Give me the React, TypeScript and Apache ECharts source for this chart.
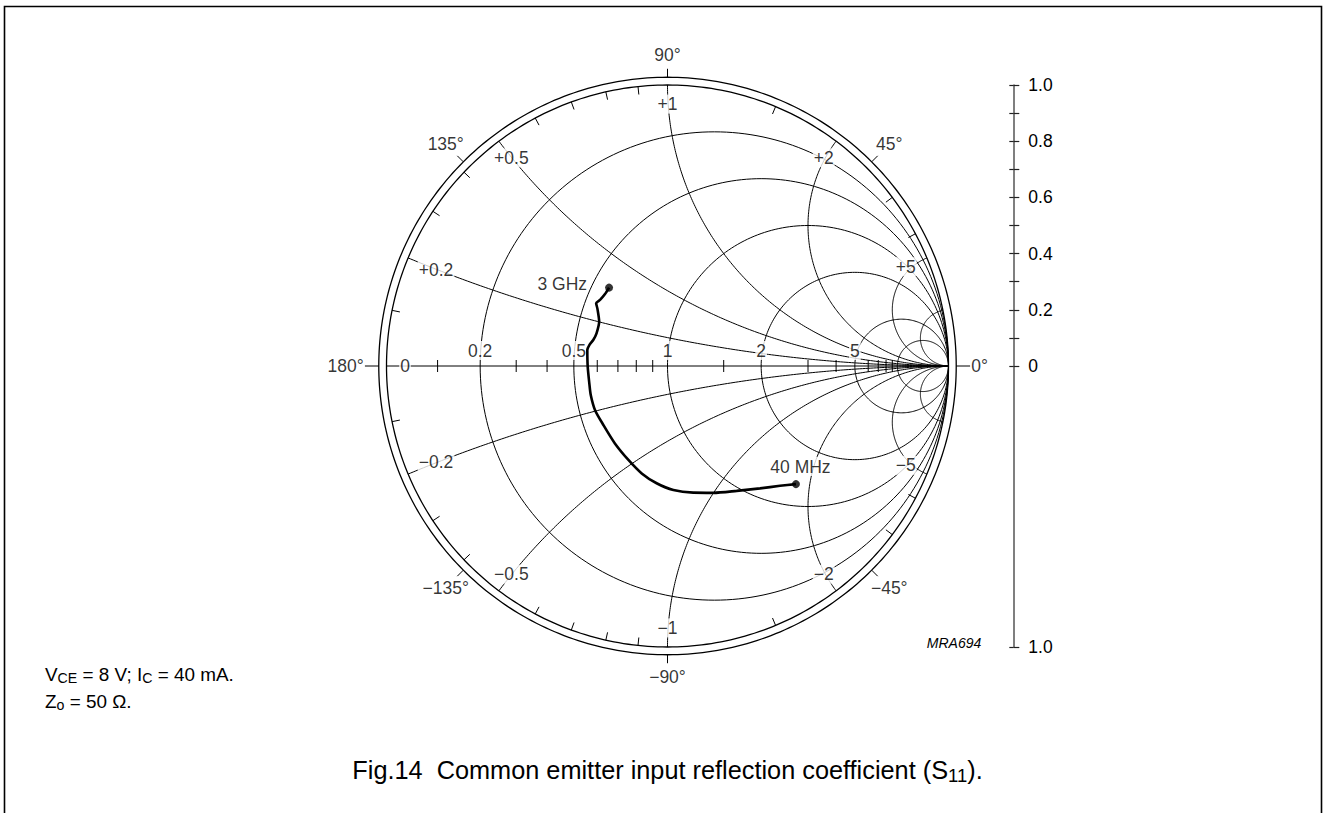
import React, { useEffect, useRef } from 'react';
import * as echarts from 'echarts';

// ---- S11 data (3 GHz -> 40 MHz): magnitude and angle (deg)
const s11Mag = [0.348, 0.339, 0.336, 0.338, 0.323, 0.29, 0.278, 0.28, 0.288, 0.291, 0.284, 0.285, 0.292, 0.302, 0.31, 0.333, 0.362, 0.393, 0.419, 0.442, 0.46, 0.48, 0.508, 0.546, 0.585, 0.621];
const s11Ang = [126.7, 131.0, 135.6, 138.7, 140.6, 147.0, 155.3, 160.7, 165.0, 168.7, -179.5, -167.5, -159.3, -148.6, -137.4, -124.2, -112.6, -103.5, -95.3, -87.3, -78.5, -70.1, -61.0, -52.9, -46.8, -42.6];
const freqLabels = ['3 GHz', '40 MHz'];

// ---- Smith chart grid values
const resistanceCircles = [0.2, 0.5, 1, 2, 5, 10];
const resistanceLabels = ['0.2', '0.5', '1', '2', '5'];
const reactanceArcs = [0.2, 0.5, 1, 2, 5, 10];
const reactanceLabels = ['0.2', '0.5', '1', '2', '5'];
const axisMinorTicks = [0.1, 0.3, 0.4, 0.6, 0.7, 0.8, 0.9, 1.5, 3, 4, 6, 7, 8, 9];
const rimMinorTicks = [0.1, 0.3, 0.4, 0.6, 0.7, 0.8, 0.9, 1.5, 3, 4];
const angleMarks = [0, 45, 90, 135, 180, -45, -90, -135];

// ---- magnitude scale on the right
const magTickValues = [1.0, 0.9, 0.8, 0.7, 0.6, 0.5, 0.4, 0.3, 0.2, 0.1, 0, -1.0];
const magLabelValues = [1.0, 0.8, 0.6, 0.4, 0.2, 0, -1.0];

const FONT = '"Liberation Sans", Arial, Helvetica, sans-serif';
const CX = 667.5;
const CY = 366;
const R = 281;
const SPAN = 1.3;
const R_OUT = 1.0275;
const FS = 17.5;

const CW: Record<string, number> = { '.': 0.278, '+': 0.584, '\u2212': 0.584, '\u00b0': 0.4 };
function halfW(s: string, fs: number) {
  let w = 0;
  for (const ch of s) w += CW[ch] !== undefined ? CW[ch] : 0.556;
  return (w * fs) / 2;
}
function radialPos(text: string, thetaDeg: number, basePx: number, gapPx: number, outward: boolean): [number, number] {
  const th = (thetaDeg * Math.PI) / 180;
  const c = Math.abs(Math.cos(th));
  const s = Math.abs(Math.sin(th));
  const w = halfW(text, FS);
  const h = 0.4 * FS;
  const t = Math.min(c > 1e-6 ? w / c : Infinity, s > 1e-6 ? h / s : Infinity);
  const d = outward ? basePx + gapPx + t : basePx - gapPx - t;
  return [(d / R) * Math.cos(th), (d / R) * Math.sin(th)];
}

function arcPts(cx: number, cy: number, r: number, a0: number, a1: number, n: number) {
  const pts: number[][] = [];
  for (let i = 0; i <= n; i++) {
    const a = a0 + ((a1 - a0) * i) / n;
    pts.push([cx + r * Math.cos(a), cy + r * Math.sin(a)]);
  }
  return pts;
}

function buildGrid() {
  const items: any[] = [];
  const thin = { width: 1, color: '#000' };
  const thick = { width: 1.3, color: '#000' };
  items.push({ coords: arcPts(0, 0, 1, 0, 2 * Math.PI, 360), lineStyle: thick });
  items.push({ coords: arcPts(0, 0, R_OUT, 0, 2 * Math.PI, 360), lineStyle: thick });
  items.push({ coords: [[-1, 0], [1, 0]], lineStyle: thin });
  resistanceCircles.forEach((r) => {
    items.push({ coords: arcPts(r / (1 + r), 0, 1 / (1 + r), 0, 2 * Math.PI, 240), lineStyle: thin });
  });
  reactanceArcs.forEach((x) => {
    const q = x * x + 1;
    let end = Math.atan2((x * x - 1) / q, (-2 * x) / q);
    const start = -Math.PI / 2;
    if (end > start) end -= 2 * Math.PI;
    const up = arcPts(1, 1 / x, 1 / x, start, end, 200);
    items.push({ coords: up, lineStyle: thin });
    items.push({ coords: up.map((p) => [p[0], -p[1]]), lineStyle: thin });
  });
  axisMinorTicks.forEach((r) => {
    const g = (r - 1) / (r + 1);
    items.push({ coords: [[g, -6 / R], [g, 6 / R]], lineStyle: thin });
  });
  rimMinorTicks.forEach((x) => {
    const th = 2 * Math.atan(1 / x);
    [1, -1].forEach((sg) => {
      const c = Math.cos(th);
      const s = Math.sin(th) * sg;
      items.push({ coords: [[c, s], [c * (1 - 8 / R), s * (1 - 8 / R)]], lineStyle: thin });
    });
  });
  angleMarks.forEach((a) => {
    const th = (a * Math.PI) / 180;
    const L = a === 0 || a === 180 ? 14 : 8.5;
    const c = Math.cos(th);
    const s = Math.sin(th);
    items.push({ coords: [[c * R_OUT, s * R_OUT], [c * (R_OUT + L / R), s * (R_OUT + L / R)]], lineStyle: thin });
  });
  return items;
}

function buildLabels() {
  const data: any[] = [];
  resistanceLabels.forEach((t, i) => {
    const r = resistanceCircles[i];
    data.push({ value: [(r - 1) / (r + 1), 0], name: t, label: { offset: [0, -15.5] } });
  });
  data.push({ value: [-1, 0], name: '0', label: { offset: [18.5, 0] } });
  reactanceLabels.forEach((t, i) => {
    const x = reactanceArcs[i];
    const th = (2 * Math.atan(1 / x) * 180) / Math.PI;
    const tp = '+' + t;
    const tn = '\u2212' + t;
    data.push({ value: radialPos(tp, th, R, 12, false), name: tp });
    data.push({ value: radialPos(tn, -th, R, 12, false), name: tn });
  });
  angleMarks.forEach((a) => {
    const txt = (a < 0 ? '\u2212' + Math.abs(a) : String(a)) + '\u00b0';
    data.push({ value: radialPos(txt, a, R_OUT * R, 15, true), name: txt });
  });
  return data;
}

export default function App() {
  const ref = useRef<HTMLDivElement>(null);
  useEffect(() => {
    if (!ref.current) return;
    const chart = echarts.init(ref.current, null, { renderer: 'svg' });
    const pts = s11Mag.map((m, i) => {
      const a = (s11Ang[i] * Math.PI) / 180;
      return [m * Math.cos(a), m * Math.sin(a)];
    });
    const last = pts.length - 1;
    const option: any = {
      animation: false,
      backgroundColor: '#fff',
      grid: [
        { left: CX - SPAN * R, top: CY - SPAN * R, width: 2 * SPAN * R, height: 2 * SPAN * R },
        { left: 1013.3, top: CY - R, width: 40, height: 2 * R },
      ],
      xAxis: [
        { gridIndex: 0, type: 'value', min: -SPAN, max: SPAN, show: false },
        { gridIndex: 1, type: 'value', min: 0, max: 1, show: false },
      ],
      yAxis: [
        { gridIndex: 0, type: 'value', min: -SPAN, max: SPAN, show: false },
        {
          gridIndex: 1, type: 'value', min: -1, max: 1, position: 'left',
          axisLine: { show: true, lineStyle: { color: '#555', width: 1.5 } },
          axisTick: { show: true, inside: false, length: 4, customValues: magTickValues, lineStyle: { color: '#222', width: 1.2 } },
          axisLabel: { show: false }, splitLine: { show: false },
        },
        {
          gridIndex: 1, type: 'value', min: -1, max: 1, position: 'left',
          axisLine: { show: false },
          axisTick: { show: true, inside: true, length: 6, customValues: magTickValues, lineStyle: { color: '#222', width: 1.2 } },
          axisLabel: {
            show: true, inside: true, margin: 15, customValues: magLabelValues,
            color: '#000', fontSize: FS, fontFamily: FONT,
            formatter: (v: number) => (Math.abs(v) < 1e-9 ? '0' : Math.abs(v).toFixed(1)),
          },
          splitLine: { show: false },
        },
      ],
      series: [
        {
          type: 'lines', coordinateSystem: 'cartesian2d', xAxisIndex: 0, yAxisIndex: 0,
          polyline: true, silent: true, z: 1, data: buildGrid(),
          lineStyle: { color: '#000', width: 1, opacity: 1 },
        },
        {
          type: 'scatter', xAxisIndex: 0, yAxisIndex: 0, z: 2, silent: true,
          symbolSize: 0.1, itemStyle: { color: 'rgba(0,0,0,0)' },
          label: {
            show: true, position: 'inside', formatter: '{b}', color: '#000', fontSize: FS, fontFamily: FONT,
            backgroundColor: '#fff', padding: [0, 1], lineHeight: 19, align: 'center', verticalAlign: 'middle',
          },
          data: buildLabels(),
        },
        {
          type: 'line', xAxisIndex: 0, yAxisIndex: 0, z: 4, data: pts, symbol: 'none', smooth: 0.25,
          lineStyle: { color: '#000', width: 2.6 }, silent: true,
        },
        {
          type: 'scatter', xAxisIndex: 0, yAxisIndex: 0, z: 5, symbolSize: 8, silent: true,
          itemStyle: { color: '#000' },
          label: {
            show: true, formatter: '{b}', color: '#000', fontSize: FS, fontFamily: FONT,
            backgroundColor: '#fff', padding: [0, 1], lineHeight: 19,
          },
          data: [
            { value: pts[0], name: freqLabels[0], label: { position: 'left', distance: 17, offset: [0, -4] } },
            { value: pts[last], name: freqLabels[1], label: { position: 'top', distance: 4, offset: [4.5, 0] } },
          ],
        },
      ],
      graphic: [
        {
          type: 'rect', silent: true, z: 0,
          shape: { x: 4.5, y: 6.5, width: 1317, height: 900 },
          style: { fill: 'none', stroke: '#000', lineWidth: 1.6 },
        },
        {
          type: 'text', silent: true, x: 667.5, y: 770,
          style: {
            text: 'Fig.14  Common emitter input reflection coefficient (S{s|11}).',
            fontSize: 25.3, fontFamily: FONT, fill: '#000', lineHeight: 30,
            align: 'center', verticalAlign: 'middle',
            rich: { s: { fontSize: 18.5, fontFamily: FONT, lineHeight: 14, verticalAlign: 'bottom', fill: '#000' } },
          },
        },
        {
          type: 'text', silent: true, x: 45, y: 674,
          style: {
            text: 'V{s|CE} = 8 V; I{s|C} = 40 mA.',
            fontSize: 18.9, fontFamily: FONT, fill: '#000', lineHeight: 22,
            align: 'left', verticalAlign: 'middle',
            rich: { s: { fontSize: 14.2, fontFamily: FONT, lineHeight: 10, verticalAlign: 'bottom', fill: '#000' } },
          },
        },
        {
          type: 'text', silent: true, x: 45, y: 701,
          style: {
            text: 'Z{s|o} = 50 \u03a9.',
            fontSize: 18.9, fontFamily: FONT, fill: '#000', lineHeight: 22,
            align: 'left', verticalAlign: 'middle',
            rich: { s: { fontSize: 14.2, fontFamily: FONT, lineHeight: 10, verticalAlign: 'bottom', fill: '#000' } },
          },
        },
        {
          type: 'text', silent: true, x: 954, y: 643,
          style: {
            text: 'MRA694', fontSize: 14, fontStyle: 'italic', fontFamily: FONT, fill: '#000',
            align: 'center', verticalAlign: 'middle',
          },
        },
      ],
    };
    chart.setOption(option);
    return () => chart.dispose();
  }, []);
  return <div ref={ref} style={{ position: 'absolute', left: 0, top: 0, width: 1326, height: 813, background: '#fff' }} />;
}
